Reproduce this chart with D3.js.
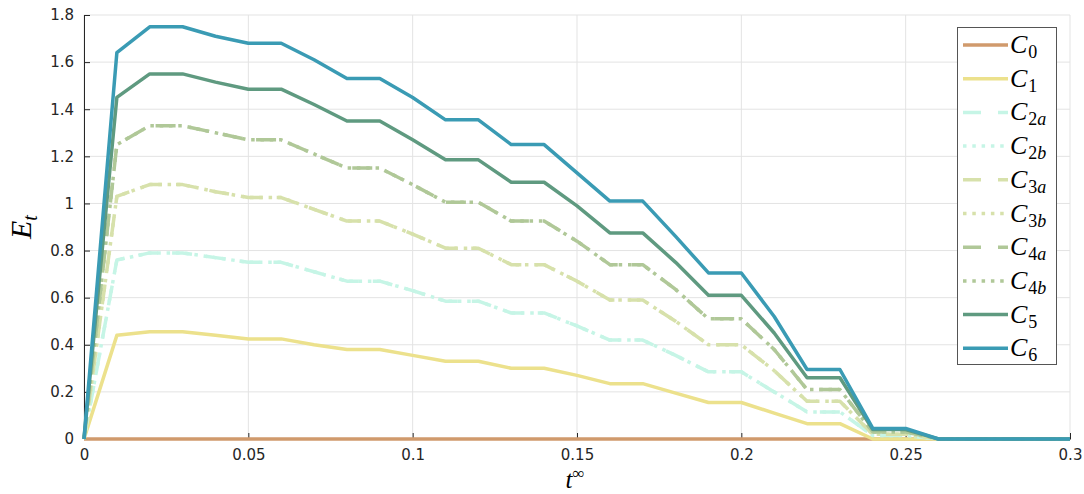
<!DOCTYPE html>
<html>
<head>
<meta charset="utf-8">
<script src="https://cdn.jsdelivr.net/npm/d3@7"></script>
<style>
html,body{margin:0;padding:0;background:#fff;}
svg{display:block;}
</style>
</head>
<body>
<svg id="chart" width="1084" height="494"></svg>
<script>
const tValues = [0,0.01,0.02,0.03,0.04,0.05,0.06,0.07,0.08,0.09,0.10,0.11,0.12,0.13,0.14,0.15,0.16,0.17,0.18,0.19,0.20,0.21,0.22,0.23,0.24,0.25,0.26,0.27,0.28,0.29,0.30];

const C0 = [0,0,0,0,0,0,0,0,0,0,0,0,0,0,0,0,0,0,0,0,0,0,0,0,0,0,0,0,0,0,0];
const C1 = [0,0.44,0.455,0.455,0.44,0.425,0.425,0.40,0.38,0.38,0.355,0.33,0.33,0.30,0.30,0.27,0.235,0.235,0.195,0.155,0.155,0.11,0.065,0.065,0,0,0,0,0,0,0];
const C2a = [0,0.76,0.79,0.79,0.77,0.75,0.75,0.71,0.67,0.67,0.63,0.585,0.585,0.535,0.535,0.48,0.42,0.42,0.355,0.285,0.285,0.20,0.115,0.115,0.015,0.015,0,0,0,0,0];
const C2b = [0,0.76,0.79,0.79,0.77,0.75,0.75,0.71,0.67,0.67,0.63,0.585,0.585,0.535,0.535,0.48,0.42,0.42,0.355,0.285,0.285,0.20,0.115,0.115,0.015,0.015,0,0,0,0,0];
const C3a = [0,1.03,1.08,1.08,1.05,1.025,1.025,0.975,0.925,0.925,0.87,0.81,0.81,0.74,0.74,0.67,0.59,0.59,0.50,0.40,0.40,0.29,0.16,0.16,0.02,0.02,0,0,0,0,0];
const C3b = [0,1.03,1.08,1.08,1.05,1.025,1.025,0.975,0.925,0.925,0.87,0.81,0.81,0.74,0.74,0.67,0.59,0.59,0.50,0.40,0.40,0.29,0.16,0.16,0.02,0.02,0,0,0,0,0];
const C4a = [0,1.25,1.33,1.33,1.30,1.27,1.27,1.21,1.15,1.15,1.08,1.005,1.005,0.925,0.925,0.84,0.74,0.74,0.635,0.51,0.51,0.38,0.21,0.21,0.03,0.03,0,0,0,0,0];
const C4b = [0,1.25,1.33,1.33,1.30,1.27,1.27,1.21,1.15,1.15,1.08,1.005,1.005,0.925,0.925,0.84,0.74,0.74,0.635,0.51,0.51,0.38,0.21,0.21,0.03,0.03,0,0,0,0,0];
const C5 = [0,1.45,1.55,1.55,1.515,1.485,1.485,1.42,1.35,1.35,1.27,1.185,1.185,1.09,1.09,0.99,0.875,0.875,0.75,0.61,0.61,0.45,0.26,0.26,0.04,0.04,0,0,0,0,0];
const C6 = [0,1.64,1.75,1.75,1.71,1.68,1.68,1.61,1.53,1.53,1.45,1.355,1.355,1.25,1.25,1.13,1.01,1.01,0.86,0.705,0.705,0.52,0.295,0.295,0.045,0.045,0,0,0,0,0];

const seriesNames = ["C0","C1","C2a","C2b","C3a","C3b","C4a","C4b","C5","C6"];
const seriesSub = ["0","1","2a","2b","3a","3b","4a","4b","5","6"];
const seriesData = [C0,C1,C2a,C2b,C3a,C3b,C4a,C4b,C5,C6];
const seriesColors = ["#d09a6c","#ece18c","#c6f5e6","#c6f5e6","#d7e1ab","#d7e1ab","#b0c898","#b0c898","#5f9a80","#3a9bb4"];
const seriesStyle = ["solid","solid","dashed","dotted","dashed","dotted","dashed","dotted","solid","solid"];

const xTicks = [0,0.05,0.1,0.15,0.2,0.25,0.3];
const xTickLabels = ["0","0.05","0.1","0.15","0.2","0.25","0.3"];
const yTicks = [0,0.2,0.4,0.6,0.8,1,1.2,1.4,1.6,1.8];
const yTickLabels = ["0","0.2","0.4","0.6","0.8","1","1.2","1.4","1.6","1.8"];

const svg = d3.select("#chart");
const m = {left:84, right:1070, top:15, bottom:439};
const x = d3.scaleLinear().domain([0,0.3]).range([m.left,m.right]);
const y = d3.scaleLinear().domain([0,1.8]).range([m.bottom,m.top]);

const dashFor = s => s==="dashed" ? "20,14" : (s==="dotted" ? "3.5,5.8" : null);

// grid
const grid = svg.append("g");
grid.selectAll("line.gx").data(xTicks).enter().append("line")
  .attr("x1",d=>x(d)).attr("x2",d=>x(d)).attr("y1",m.top).attr("y2",m.bottom)
  .attr("stroke","#e3e3e3").attr("stroke-width",1);
grid.selectAll("line.gy").data(yTicks).enter().append("line")
  .attr("x1",m.left).attr("x2",m.right).attr("y1",d=>y(d)).attr("y2",d=>y(d))
  .attr("stroke","#e3e3e3").attr("stroke-width",1);

// axes
const xAxis = d3.axisBottom(x).tickValues(xTicks).tickFormat((d,i)=>xTickLabels[i]).tickSizeInner(-6).tickSizeOuter(0).tickPadding(10);
const yAxis = d3.axisLeft(y).tickValues(yTicks).tickFormat((d,i)=>yTickLabels[i]).tickSizeInner(-6).tickSizeOuter(0).tickPadding(10);
const gx = svg.append("g").attr("transform",`translate(0,${m.bottom})`).call(xAxis);
const gy = svg.append("g").attr("transform",`translate(${m.left},0)`).call(yAxis);
[gx,gy].forEach(g=>{
  g.select(".domain").attr("stroke","#262626").attr("stroke-width",1);
  g.selectAll(".tick line").attr("stroke","#262626");
  g.selectAll(".tick text").attr("fill","#262626").attr("font-family","DejaVu Sans").attr("font-size",15);
});

// lines
const line = d3.line().x((d,i)=>x(tValues[i])).y(d=>y(d));
const lg = svg.append("g");
seriesData.forEach((arr,k)=>{
  lg.append("path").datum(arr).attr("d",line)
    .attr("fill","none").attr("stroke",seriesColors[k]).attr("stroke-width",3.5)
    .attr("stroke-linejoin","round")
    .attr("stroke-dasharray",dashFor(seriesStyle[k]));
});

// axis labels
const ylab = svg.append("text").attr("transform","translate(31,227) rotate(-90)")
  .attr("text-anchor","middle").attr("font-family","Liberation Serif").attr("font-style","italic").attr("font-size",30).attr("fill","#000");
ylab.append("tspan").text("E");
ylab.append("tspan").attr("dy",6).attr("font-size",20).text("t");

const xlab = svg.append("text").attr("x",575).attr("y",488)
  .attr("text-anchor","middle").attr("font-family","Liberation Serif").attr("font-style","italic").attr("font-size",25).attr("fill","#000");
xlab.append("tspan").text("t");
xlab.append("tspan").attr("dy",-9).attr("font-size",17).attr("font-style","normal").text("∞");

// legend
const leg = svg.append("g");
leg.append("rect").attr("x",957.5).attr("y",27.5).attr("width",99).attr("height",337)
  .attr("fill","#fff").attr("stroke","#555").attr("stroke-width",1);
seriesNames.forEach((nm,k)=>{
  const yy = 45 + k*33.7;
  leg.append("line").attr("x1",963).attr("x2",1008).attr("y1",yy).attr("y2",yy)
    .attr("stroke",seriesColors[k]).attr("stroke-width",3.5)
    .attr("stroke-dasharray", seriesStyle[k]==="dashed" ? "18,17" : (seriesStyle[k]==="dotted" ? "3.5,5.8" : null));
  const t = leg.append("text").attr("x",1010).attr("y",yy+8)
    .attr("font-family","Liberation Serif").attr("font-size",26).attr("fill","#000");
  t.append("tspan").attr("font-style","italic").text("C");
  const sub = seriesSub[k];
  t.append("tspan").attr("dy",5).attr("dx",1).attr("font-size",18).text(sub[0]);
  if (sub.length>1) t.append("tspan").attr("font-size",18).attr("font-style","italic").text(sub[1]);
});
</script>
</body>
</html>
